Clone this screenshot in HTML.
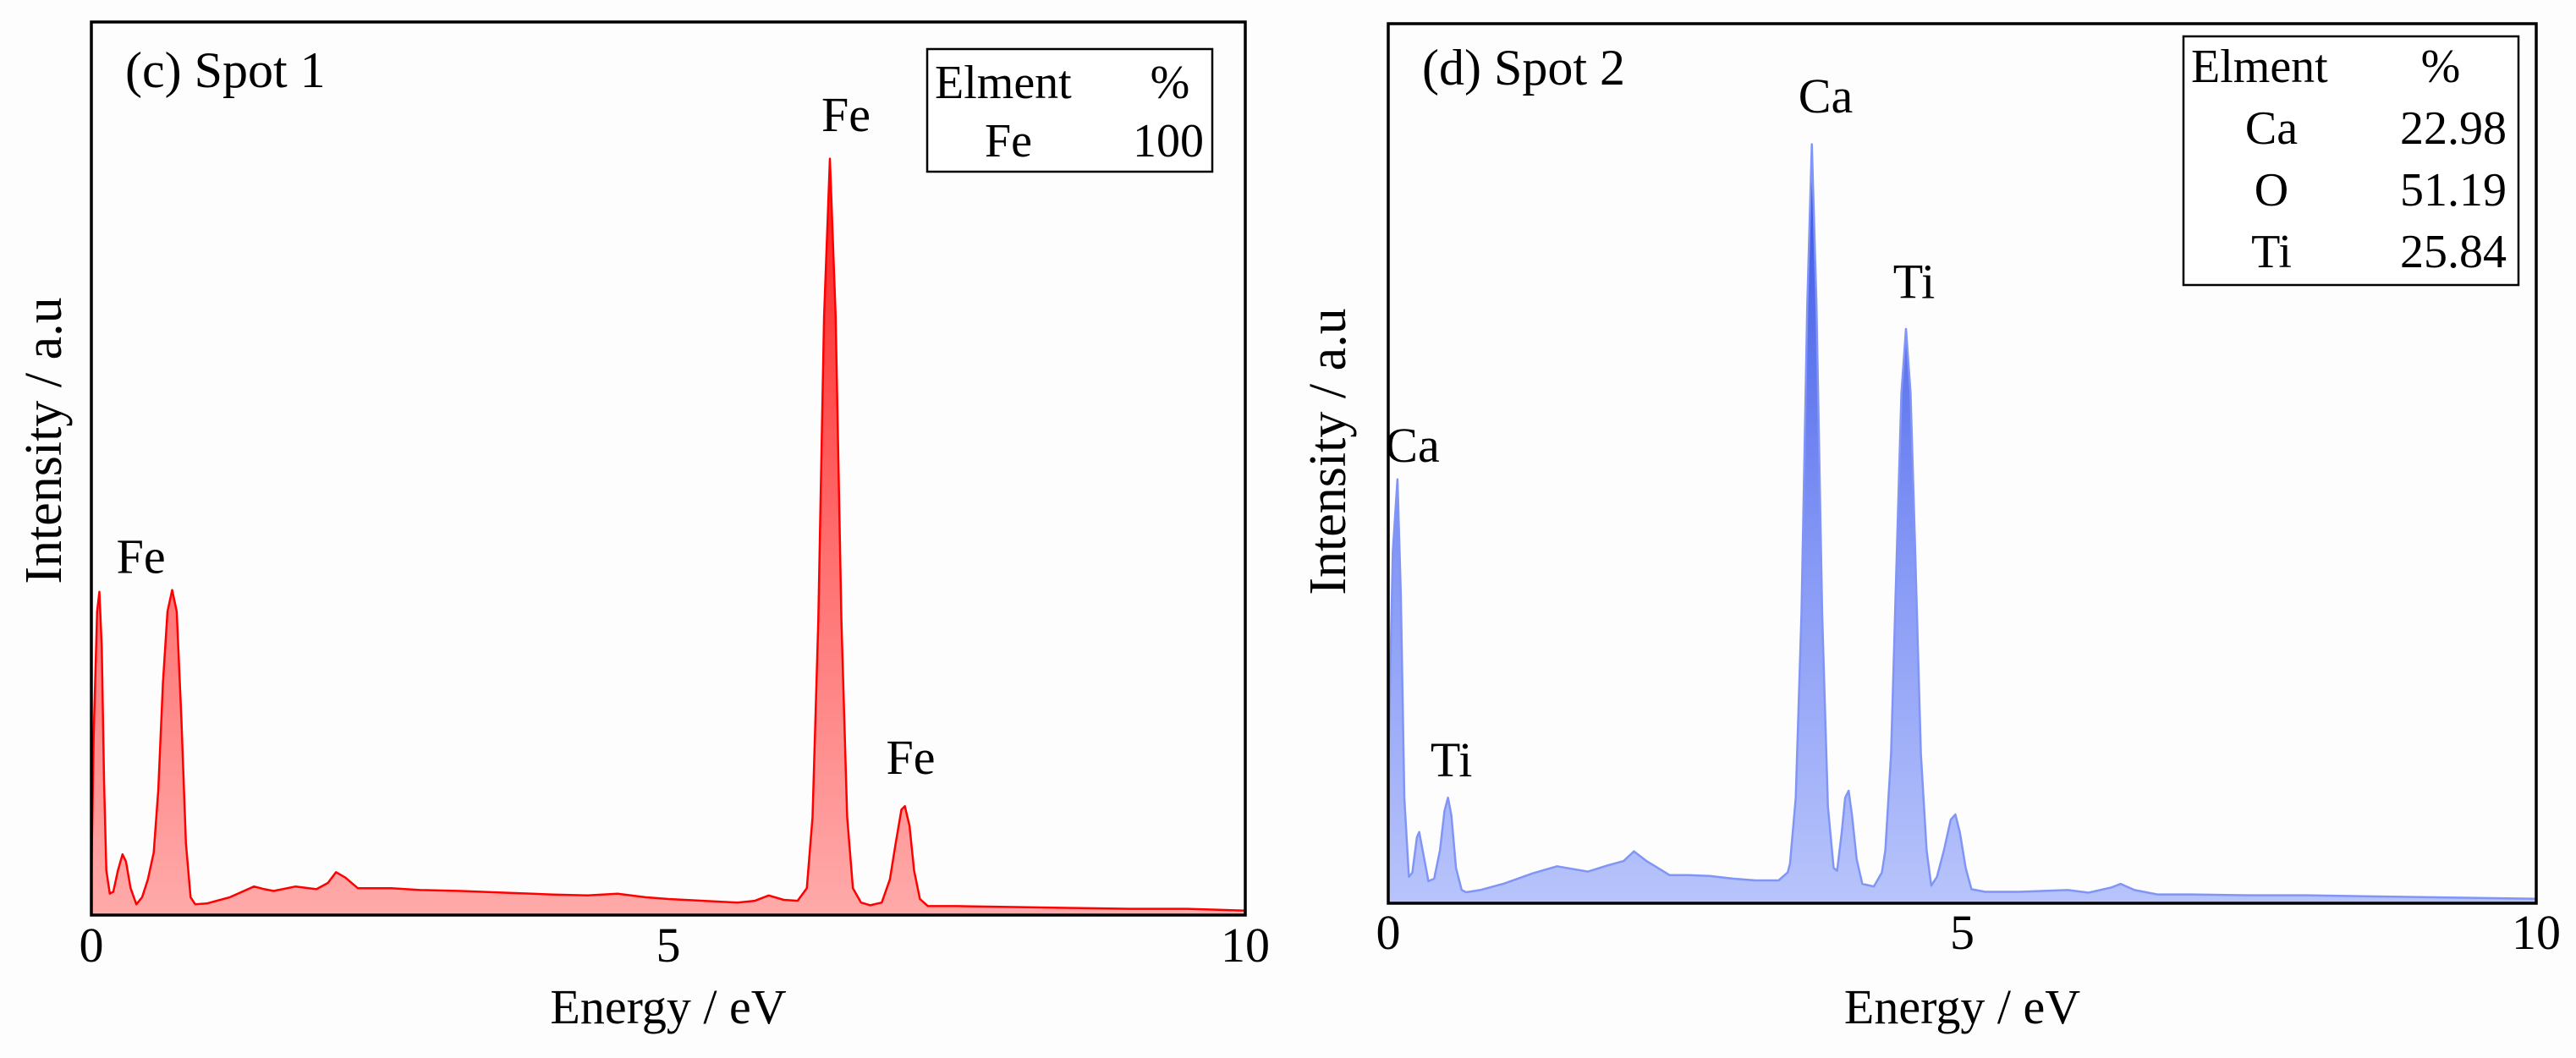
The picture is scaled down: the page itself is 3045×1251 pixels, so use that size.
<!DOCTYPE html>
<html>
<head>
<meta charset="utf-8">
<style>
  html, body { margin:0; padding:0; background:#fdfdfd; }
  svg { display:block; }
  text { font-family: "Liberation Serif", "DejaVu Serif", serif; fill:#000; }
</style>
</head>
<body>
<svg id="chart" width="3045" height="1251" viewBox="0 0 3045 1251" xmlns="http://www.w3.org/2000/svg">
  <defs>
    <linearGradient id="redGrad" gradientUnits="userSpaceOnUse" x1="0" y1="26" x2="0" y2="1082">
      <stop offset="0" stop-color="#ff0000"/>
      <stop offset="0.6" stop-color="#ff7070"/>
      <stop offset="1" stop-color="#ffaaaa"/>
    </linearGradient>
    <linearGradient id="blueGrad" gradientUnits="userSpaceOnUse" x1="0" y1="28" x2="0" y2="1068">
      <stop offset="0" stop-color="#1f3ce0"/>
      <stop offset="0.6" stop-color="#8497f5"/>
      <stop offset="1" stop-color="#b8c4fb"/>
    </linearGradient>
  </defs>
  <g id="panelL"></g>
  <g id="panelR"></g>
</svg>
<script>
// ---- data (energy in eV, intensity in % of plot height) ----
const energyL = [0.00,0.02,0.05,0.07,0.09,0.11,0.13,0.16,0.19,0.23,0.27,0.30,0.34,0.39,0.44,0.49,0.54,0.58,0.62,0.66,0.70,0.74,0.78,0.82,0.86,0.90,1.00,1.20,1.41,1.50,1.58,1.77,1.95,2.05,2.12,2.20,2.31,2.60,2.85,3.20,3.60,4.00,4.30,4.56,4.80,5.00,5.30,5.60,5.75,5.87,6.00,6.12,6.20,6.25,6.30,6.35,6.40,6.45,6.50,6.55,6.60,6.67,6.75,6.85,6.92,6.97,7.02,7.05,7.09,7.13,7.18,7.25,7.50,8.00,8.50,9.00,9.50,10.00];
const intensityL = [4,20,34,36.2,30,15,5,2.4,2.6,5,6.8,6,3,1.2,2,4,7,14,26,34,36.4,34,22,8,2,1.2,1.3,2.0,3.2,2.9,2.7,3.2,2.9,3.6,4.8,4.2,3.0,3.0,2.8,2.7,2.5,2.3,2.2,2.4,2.0,1.8,1.6,1.4,1.6,2.2,1.7,1.6,3,11,33,67,84.7,67,33,11,3,1.4,1.1,1.4,4,8,11.8,12.2,10,5,1.8,1.0,1.0,0.9,0.8,0.7,0.7,0.5];

const energyR = [0.00,0.04,0.08,0.11,0.14,0.18,0.21,0.25,0.27,0.30,0.35,0.40,0.45,0.49,0.52,0.55,0.59,0.64,0.68,0.80,1.00,1.26,1.47,1.74,1.91,2.05,2.14,2.25,2.45,2.62,2.80,3.00,3.20,3.40,3.48,3.50,3.55,3.60,3.65,3.69,3.73,3.78,3.83,3.88,3.91,3.95,3.98,4.01,4.04,4.08,4.13,4.23,4.30,4.33,4.38,4.43,4.47,4.51,4.55,4.59,4.64,4.69,4.73,4.78,4.84,4.90,4.94,4.98,5.03,5.08,5.20,5.50,5.92,6.10,6.30,6.38,6.50,6.70,7.00,7.50,8.00,8.50,9.00,9.50,10.00];
const intensityR = [15,40,48.2,35,12,3,3.5,7.5,8.1,6,2.5,2.8,6,10.5,12,10,4,1.5,1.25,1.5,2.2,3.4,4.2,3.6,4.3,4.8,5.9,4.8,3.2,3.2,3.1,2.8,2.6,2.6,3.5,4.5,12,33,68,86.3,68,33,11,4,3.7,8,12,12.8,10,5,2.2,1.9,3.5,6,17,40,58,65.3,58,40,17,6,2.0,3,6,9.5,10.1,8,4,1.6,1.3,1.3,1.5,1.2,1.8,2.2,1.5,1.0,1.0,0.9,0.9,0.8,0.7,0.6,0.5];

const xTickValues = [0, 5, 10];
const xTickLabels = ["0", "5", "10"];

const peakLabelsL = ["Fe", "Fe", "Fe"];
const peakLabelEnergyL = [0.43, 6.54, 7.1];
const peakLabelHeightL = [38.3, 87.8, 15.8];

const peakLabelsR = ["Ca", "Ca", "Ti", "Ti"];
const peakLabelEnergyR = [0.21, 3.81, 4.58, 0.55];
const peakLabelHeightR = [50.2, 89.9, 68.8, 14.4];

const tableElementsL = ["Fe"];
const tablePercentsL = ["100"];
const tableElementsR = ["Ca", "O", "Ti"];
const tablePercentsR = ["22.98", "51.19", "25.84"];

const NS = "http://www.w3.org/2000/svg";
function mk(parent, tag, attrs, txt) {
  const e = document.createElementNS(NS, tag);
  for (const k in attrs) e.setAttribute(k, attrs[k]);
  if (txt !== undefined) e.textContent = txt;
  parent.appendChild(e);
  return e;
}

function drawPanel(cfg) {
  const g = document.getElementById(cfg.id);
  const xs = e => cfg.x0 + (e / 10) * (cfg.x1 - cfg.x0);
  const ys = v => cfg.yb - (v / 100) * (cfg.yb - cfg.yt);

  // area
  let d = "M" + cfg.x0 + "," + cfg.yb;
  let dl = "";
  for (let i = 0; i < cfg.E.length; i++) {
    const p = xs(cfg.E[i]).toFixed(1) + "," + ys(cfg.I[i]).toFixed(1);
    d += " L" + p;
    dl += (i === 0 ? "M" : " L") + p;
  }
  d += " L" + cfg.x1 + "," + cfg.yb + " Z";
  const area = mk(g, "path", {d: d, fill: cfg.fill, stroke: "none"});
  
  
  const line = mk(g, "path", {d: dl, fill: "none", stroke: cfg.line, "stroke-width": 2.5, "stroke-linejoin": "round"});
  
  

  // frame
  const fr = mk(g, "rect", {x: cfg.x0, y: cfg.yt, width: cfg.x1 - cfg.x0, height: cfg.yb - cfg.yt, fill: "none", stroke: "#000", "stroke-width": 3.5});
  
  

  // x ticks
  for (let i = 0; i < xTickValues.length; i++) {
    const t = mk(g, "text", {x: xs(xTickValues[i]), y: cfg.tickY, "font-size": 58, "text-anchor": "middle"}, xTickLabels[i]);
    
    
  }
  // x title
  const xt = mk(g, "text", {x: (cfg.x0 + cfg.x1) / 2, y: 1210, "font-size": 58, "text-anchor": "middle"}, "Energy / eV");
  
  
  // y title
  const yt = mk(g, "text", {x: 0, y: 0, "font-size": 62, "text-anchor": "middle", transform: "translate(" + cfg.yTitleX + "," + cfg.yTitleY + ") rotate(-90)"}, "Intensity / a.u");
  
  
  // panel title
  const pt = mk(g, "text", {x: cfg.x0 + 40, y: cfg.titleY, "font-size": 60}, cfg.title);
  
  

  // peak labels
  for (let i = 0; i < cfg.labels.length; i++) {
    const pl = mk(g, "text", {x: xs(cfg.labE[i]), y: ys(cfg.labH[i]), "font-size": 58, "text-anchor": "middle"}, cfg.labels[i]);
    
    
  }

  // table
  const tb = cfg.table;
  const tg = mk(g, "g", {});
  
  
  mk(tg, "rect", {x: tb.x, y: tb.y, width: tb.w, height: tb.h, fill: "#fff", stroke: "#000", "stroke-width": 2.5});
  const h1 = mk(tg, "text", {x: tb.hdrX, y: tb.row0, "font-size": 56}, "Elment");
  
  
  const h2 = mk(tg, "text", {x: tb.pctX, y: tb.row0, "font-size": 56, "text-anchor": "middle"}, "%");
  
  
  for (let i = 0; i < tb.els.length; i++) {
    const yy = tb.row0 + (i + 1) * tb.dy;
    const a = mk(tg, "text", {x: tb.elX, y: yy, "font-size": 56, "text-anchor": "middle"}, tb.els[i]);
    
    
    const b = mk(tg, "text", {x: tb.valX, y: yy, "font-size": 56, "text-anchor": "end"}, tb.vals[i]);
    
    
  }
}

drawPanel({
  id: "panelL", prefix: "spot1", x0: 108, x1: 1472, yt: 26, yb: 1082,
  E: energyL, I: intensityL, fill: "url(#redGrad)", line: "#ff0000",
  tickY: 1137, yTitleX: 72, yTitleY: 521, titleY: 103, title: "(c) Spot 1",
  labels: peakLabelsL, labE: peakLabelEnergyL, labH: peakLabelHeightL,
  table: {x: 1096, y: 58, w: 337, h: 145, hdrX: 1105, pctX: 1383, elX: 1192, valX: 1423, row0: 116, dy: 69, els: tableElementsL, vals: tablePercentsL}
});
drawPanel({
  id: "panelR", prefix: "spot2", x0: 1641, x1: 2998, yt: 28, yb: 1068,
  E: energyR, I: intensityR, fill: "url(#blueGrad)", line: "#8095f5",
  tickY: 1122, yTitleX: 1590, yTitleY: 534, titleY: 100, title: "(d) Spot 2",
  labels: peakLabelsR, labE: peakLabelEnergyR, labH: peakLabelHeightR,
  table: {x: 2581, y: 43, w: 396, h: 294, hdrX: 2590, pctX: 2885, elX: 2685, valX: 2963, row0: 97, dy: 73, els: tableElementsR, vals: tablePercentsR}
});
</script>
</body>
</html>
